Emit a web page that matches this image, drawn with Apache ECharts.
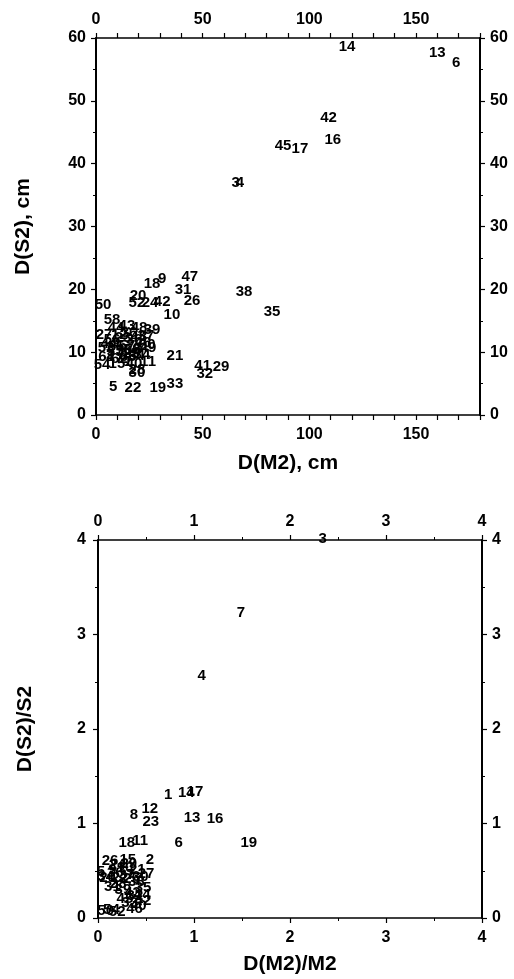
<!DOCTYPE html>
<html lang="en">
<head>
    <meta charset="UTF-8">
    <title>D(S2) vs D(M2)</title>
    <style>
        html, body { margin: 0; padding: 0; background: #fff; }
        #container { width: 514px; height: 979px; }
    </style>
</head>
<body>
<div id="container"></div>
<script src="https://cdn.jsdelivr.net/npm/echarts@6/dist/echarts.min.js"></script>
<script>
    // upper panel: absolute differences, cm
    var labelsA = ['14','13','6','42','16','45','17','3','4','47','31','26','38','35','41','29','32',
        '18','9','20','52','24','42','50','10','58','39','21','54','15','1','40','11','28','30','5','22','19','33',
        '27','44','43','48','37','56','23','36','46','53','55','57','8','49','2','7','25','34',
        '12','36','44','48','56','57','59','60','61','62','63','64'];
    var xA = [117.7,160,168.8,109,111,87.7,95.6,65.5,67.5,44,40.8,45,69.4,82.5,50,58.6,51,
        26.3,31,19.7,19.2,25.3,31,3.3,35.6,7.5,26.3,37,2.8,9.8,15,17.8,24.4,19.2,19.2,8,17.3,29,37,
        3.8,9.4,14.5,20.2,23.4,7.5,12.7,17.8,22,4.7,9.4,14.5,19.2,24.4,6.6,11.7,16.4,21.6,
        11,15.5,6,20,13,9,17,24,5,11,15,19];
    var yA = [58.6,57.6,56,47.3,43.8,42.8,42.3,36.9,36.9,22,19.9,18.2,19.6,16.4,7.8,7.6,6.5,
        20.9,21.6,19,17.8,17.8,18,17.5,15.9,15.1,13.5,9.4,8,8.1,8.4,8.1,8.4,7.2,6.7,4.5,4.3,4.3,4.9,
        12.7,13.9,14.2,13.9,12.6,11.9,12.3,11.9,11.5,10.7,10.8,11,10.5,10.7,9.6,9.7,9.7,9.6,
        12.8,13,11.3,12.4,10.2,10.1,10.3,11.2,9.2,9,9.2,9.4];

    // lower panel: relative differences
    var labelsB = ['3','7','4','1','14','17','8','12','23','13','16','19','6','18','11','2','15','26',
        '5','9','10','21','27','20','22','25','28','31','35','32','42','33','40','50','52','54',
        '24','29','30','34','36','37','38','39','43','44','45','46'];
    var xB = [2.34,1.49,1.08,0.73,0.92,1.01,0.375,0.54,0.55,0.98,1.22,1.57,0.84,0.30,0.44,0.54,0.31,0.125,
        0.03,0.15,0.28,0.41,0.50,0.10,0.23,0.35,0.21,0.15,0.47,0.385,0.47,0.33,0.42,0.08,0.2,0.14,
        0.2,0.32,0.44,0.08,0.18,0.3,0.4,0.26,0.36,0.46,0.28,0.38];
    var yB = [4.01,3.23,2.56,1.30,1.32,1.33,1.09,1.16,1.02,1.06,1.05,0.80,0.80,0.79,0.82,0.62,0.62,0.60,
        0.49,0.51,0.53,0.51,0.47,0.42,0.43,0.41,0.36,0.33,0.32,0.23,0.18,0.16,0.13,0.075,0.065,0.09,
        0.56,0.57,0.44,0.44,0.48,0.46,0.38,0.3,0.27,0.25,0.2,0.1];

    var FONT = 'Liberation Sans';

    function pts(lab, xs, ys) {
        var out = [];
        for (var i = 0; i < lab.length; i++) {
            out.push([xs[i], ys[i], lab[i]]);
        }
        return out;
    }

    function axis(opt) {
        var a = {
            type: 'value',
            gridIndex: opt.grid,
            position: opt.position,
            min: 0,
            max: opt.max,
            interval: opt.interval,
            splitLine: { show: false },
            axisLine: { show: true, onZero: false, lineStyle: { color: '#000', width: opt.lw || 1.5 } },
            axisTick: { show: true, length: 5, lineStyle: { color: '#000', width: 1.2 } },
            minorTick: { show: opt.minor > 0, splitNumber: opt.minor || 5, length: 3, lineStyle: { color: '#000', width: 1 } },
            axisLabel: {
                color: '#000', fontFamily: FONT, fontWeight: 'bold', fontSize: 16,
                margin: opt.margin || 8,
                showMaxLabel: opt.showMax !== false,
                formatter: opt.fmt
            }
        };
        if (opt.name) {
            a.name = opt.name;
            a.nameLocation = 'middle';
            a.nameGap = opt.nameGap;
            a.nameTextStyle = { color: '#000', fontFamily: FONT, fontWeight: 'bold', fontSize: 21 };
        }
        return a;
    }

    var fmt50 = function (v) { return v % 50 === 0 ? v : ''; };

    function labelSeries(xi, yi, data) {
        return {
            type: 'scatter',
            xAxisIndex: xi,
            yAxisIndex: yi,
            symbolSize: 0,
            clip: false,
            itemStyle: { opacity: 1 },
            data: data,
            label: {
                show: true, position: 'inside', color: '#000',
                fontFamily: FONT, fontWeight: 'bold', fontSize: 15,
                formatter: function (p) { return p.value[2]; }
            },
            labelLayout: { hideOverlap: false }
        };
    }

    var dom = document.getElementById('container');
    var myChart = echarts.init(dom, null, { renderer: 'canvas' });

    var option = {
        backgroundColor: '#fff',
        animation: false,
        grid: [
            { left: 96, right: 34, top: 38, height: 377 },
            { left: 98, right: 32, top: 540, height: 378 }
        ],
        xAxis: [
            axis({ grid: 0, position: 'bottom', max: 180, interval: 10, fmt: fmt50, margin: 12, name: 'D(M2), cm', nameGap: 38 }),
            axis({ grid: 0, position: 'top', max: 180, interval: 10, fmt: fmt50, margin: 10 }),
            axis({ grid: 1, position: 'bottom', max: 4, interval: 1, minor: 2, margin: 12, name: 'D(M2)/M2', nameGap: 36 }),
            axis({ grid: 1, position: 'top', max: 4, interval: 1, minor: 2, margin: 10 })
        ],
        yAxis: [
            axis({ grid: 0, position: 'left', max: 60, interval: 10, minor: 2, lw: 2, margin: 10, name: 'D(S2), cm', nameGap: 62 }),
            axis({ grid: 0, position: 'right', max: 60, interval: 10, minor: 2, lw: 2, margin: 10 }),
            axis({ grid: 1, position: 'left', max: 4, interval: 1, minor: 2, lw: 2, margin: 12, name: 'D(S2)/S2', nameGap: 62 }),
            axis({ grid: 1, position: 'right', max: 4, interval: 1, minor: 2, lw: 2, margin: 10 })
        ],
        series: [
            labelSeries(0, 0, pts(labelsA, xA, yA)),
            labelSeries(2, 2, pts(labelsB, xB, yB))
        ]
    };

    myChart.setOption(option);
</script>
</body>
</html>
